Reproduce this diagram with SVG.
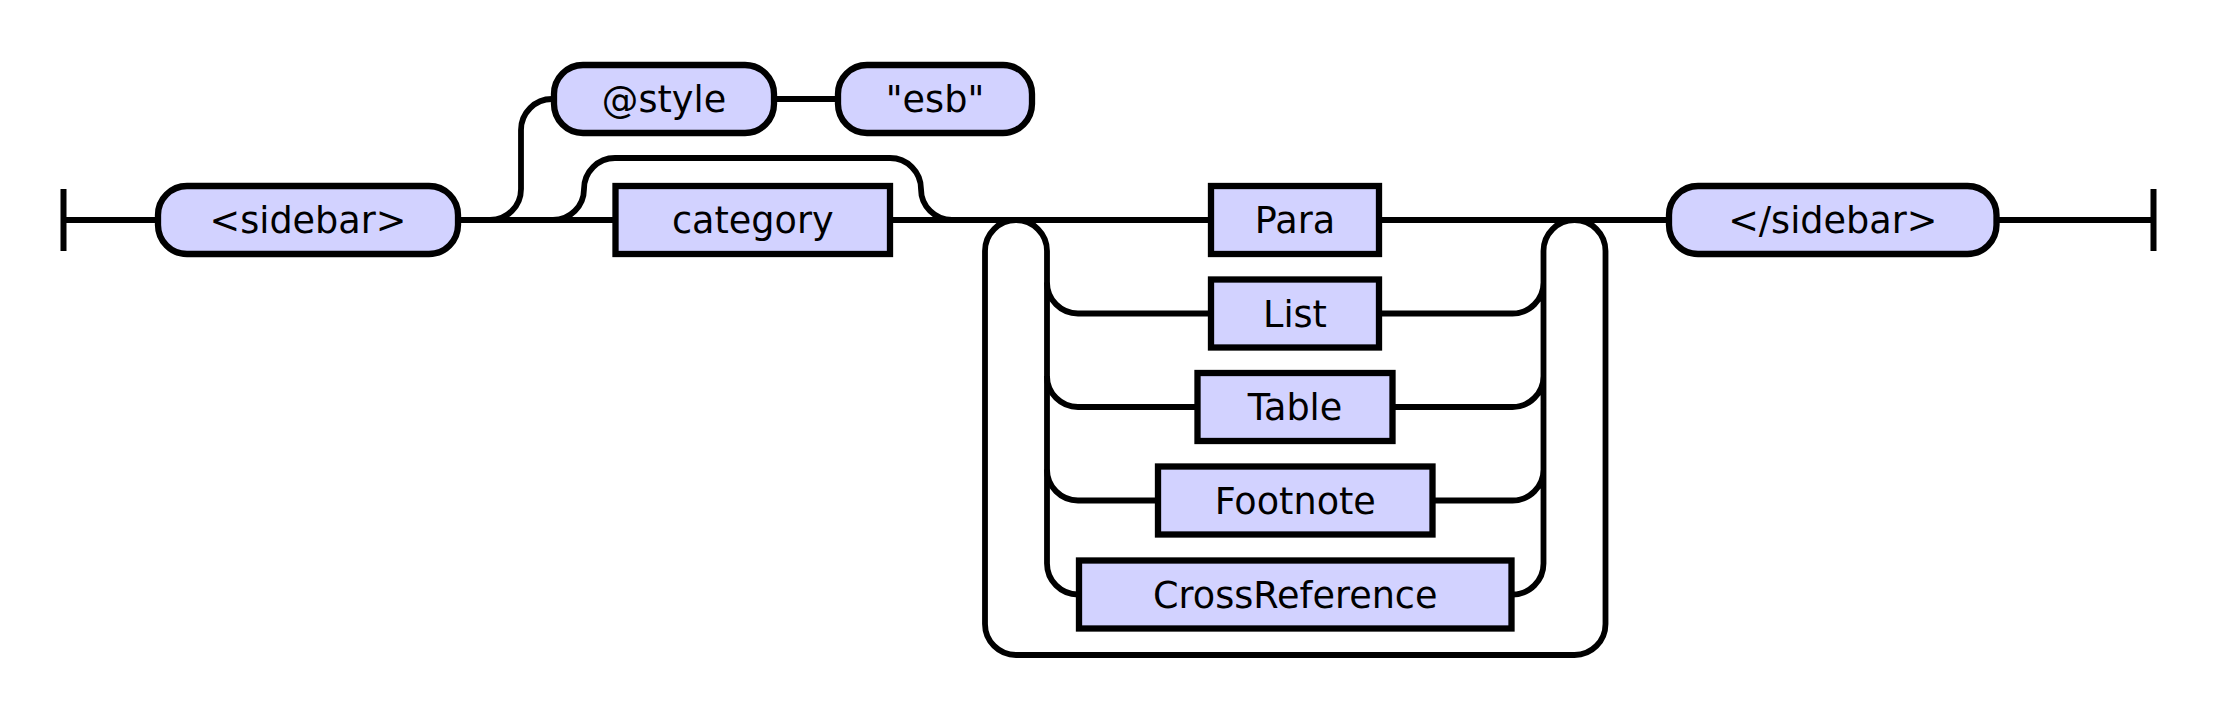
<svg xmlns="http://www.w3.org/2000/svg" width="2214" height="716" viewBox="0 0 2214 716">
<style>
.line{fill:none;stroke:#000;stroke-width:5.8}
.bar{fill:none;stroke:#000;stroke-width:6}
.term{fill:#d2d2ff;stroke:#000;stroke-width:6.3}
.nt{fill:#d2d2ff;stroke:#000;stroke-width:6.3}
text{font-family:"DejaVu Sans","Liberation Sans",sans-serif;font-size:36.6px;fill:#000;text-anchor:middle}
</style>
<rect width="2214" height="716" fill="#fff"/>
<g id="connectors">
<path class="bar" d="M63.5 189 V251 M2153.5 189 V251"/>
<path class="line" d="M63.5 220 H158 M458 220 H615.5 M890 220 H1211 M1379 220 H1669 M1996.5 220 H2153.5"/>
<path class="line" d="M490 220 A31 31 0 0 0 521 189 V130 A31 31 0 0 1 552 99 H554 M774 99 H838"/>
<path class="line" d="M553 220 A31 31 0 0 0 584 189 A31 31 0 0 1 615 158 H890 A31 31 0 0 1 921 189 A31 31 0 0 0 952 220"/>
<path class="line" d="M1016 220 A31 31 0 0 1 1047 251 V563.5 A31 31 0 0 0 1078 594.5 H1079"/>
<path class="line" d="M1047 282.5 A31 31 0 0 0 1078 313.5 H1211 M1047 376 A31 31 0 0 0 1078 407 H1197.5 M1047 469.5 A31 31 0 0 0 1078 500.5 H1158"/>
<path class="line" d="M1379 313.5 H1512.5 A31 31 0 0 0 1543.5 282.5 M1392.5 407 H1512.5 A31 31 0 0 0 1543.5 376 M1432.5 500.5 H1512.5 A31 31 0 0 0 1543.5 469.5 M1511.5 594.5 H1512.5 A31 31 0 0 0 1543.5 563.5 V251 A31 31 0 0 1 1574.5 220"/>
<path class="line" d="M1574.5 220 A31 31 0 0 1 1605.5 251 V624 A31 31 0 0 1 1574.5 655 H1016 A31 31 0 0 1 985 624 V251 A31 31 0 0 1 1016 220"/>
</g>
<g id="sidebar-open"><rect class="term" x="158" y="186" width="300" height="68" rx="29"/><text x="308" y="233">&lt;sidebar&gt;</text></g>
<g id="style-attr"><rect class="term" x="554" y="65" width="220" height="68" rx="29"/><text x="664" y="112">@style</text></g>
<g id="esb"><rect class="term" x="838" y="65" width="194" height="68" rx="29"/><text x="935" y="112">"esb"</text></g>
<g id="category"><rect class="nt" x="615.5" y="186" width="274.5" height="68"/><text x="752.75" y="233">category</text></g>
<g id="para"><rect class="nt" x="1211" y="186" width="168" height="68"/><text x="1295" y="233">Para</text></g>
<g id="list"><rect class="nt" x="1211" y="279.5" width="168" height="68"/><text x="1295" y="326.5">List</text></g>
<g id="table"><rect class="nt" x="1197.5" y="373" width="195" height="68"/><text x="1295" y="420">Table</text></g>
<g id="footnote"><rect class="nt" x="1158" y="466.5" width="274.5" height="68"/><text x="1295.25" y="513.5">Footnote</text></g>
<g id="crossreference"><rect class="nt" x="1079" y="560.5" width="432.5" height="68"/><text x="1295.25" y="607.5">CrossReference</text></g>
<g id="sidebar-close"><rect class="term" x="1669" y="186" width="327.5" height="68" rx="29"/><text x="1832.75" y="233">&lt;/sidebar&gt;</text></g>
</svg>
